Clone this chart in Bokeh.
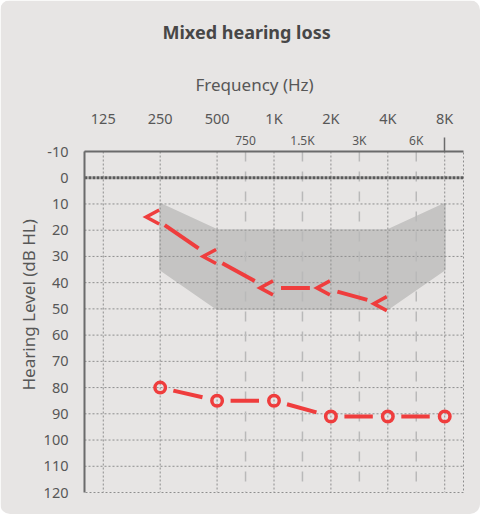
import math
from bokeh.plotting import figure
from bokeh.models import Range1d, LinearAxis, FixedTicker, Title
from bokeh.embed import file_html
from bokeh.resources import INLINE

# ---------------- data ----------------
freq_labels = ["125", "250", "500", "1K", "2K", "4K", "8K"]
half_labels = ["750", "1.5K", "3K", "6K"]
db_ticks = [-10, 0, 10, 20, 30, 40, 50, 60, 70, 80, 90, 100, 110, 120]

# bone conduction ("<") values
bc_freq = ["250", "500", "1K", "2K", "4K"]
bc_db = [15, 30, 42, 42, 48]

# air conduction ("O") values
ac_freq = ["250", "500", "1K", "2K", "4K", "8K"]
ac_db = [80, 85, 85, 91, 91, 91]

# shaded band (outline, clockwise)
band_freq = ["250", "500", "4K", "8K", "8K", "4K", "500", "250"]
band_db = [10, 20, 20, 10, 35, 50, 50, 35]

# ---------------- styling ----------------
PANEL = "#e7e5e4"
BAND = "#c5c4c3"
RED = "#ef3d3d"
GRID = "#8e8e8e"
AXIS = "#6b6b6b"
TEXT = "#575757"
FONT = "Noto Sans"

FW, FH = 379, 341
X0, X1 = -0.33, 6.33
Y_TOP, Y_BOT = -10, 120
PX_X = FW / (X1 - X0)
PX_Y = FH / (Y_BOT - Y_TOP)

idx = {lab: i for i, lab in enumerate(freq_labels)}
oct_pos = list(range(len(freq_labels)))
half_pos = [2.5 + i for i in range(len(half_labels))]

p = figure(frame_width=FW, frame_height=FH,
           x_range=Range1d(X0, X1), y_range=Range1d(Y_BOT, Y_TOP),
           x_axis_location=None, y_axis_location=None,
           toolbar_location=None, output_backend="svg",
           min_border_left=84, min_border_top=144,
           min_border_right=17, min_border_bottom=22)
p.background_fill_color = PANEL
p.border_fill_color = PANEL
p.outline_line_color = GRID
p.outline_line_dash = "2 2"
p.outline_line_width = 1
p.xgrid.visible = False
p.ygrid.visible = False
p.styles = {"border-radius": "10px", "overflow": "hidden"}

# band
p.patch([idx[f] for f in band_freq], band_db, fill_color=BAND,
        line_color=BAND, line_width=2, line_join="round")

# grid lines drawn as glyphs (above band)
p.multi_line([[x, x] for x in oct_pos], [[Y_TOP, Y_BOT]] * len(oct_pos),
             line_color=GRID, line_dash="2 2", line_width=1)
hy = [d for d in db_ticks if d not in (Y_TOP, 0, Y_BOT)]
p.multi_line([[X0, X1]] * len(hy), [[d, d] for d in hy],
             line_color=GRID, line_dash="2 2", line_width=1)
p.multi_line([[x, x] for x in half_pos], [[Y_TOP, Y_BOT]] * len(half_pos),
             line_color="#b9b9b9", line_dash="10 10", line_width=1.5)
p.line([X0, X1], [0, 0], line_color="#5a5a5a", line_dash="3 1", line_width=3)


def shorten(x0, y0, x1, y1, g0, g1):
    dx = (x1 - x0) * PX_X
    dy = (y1 - y0) * PX_Y
    L = math.hypot(dx, dy)
    a, b = g0 / L, 1 - g1 / L
    return ([x0 + (x1 - x0) * a, x0 + (x1 - x0) * b],
            [y0 + (y1 - y0) * a, y0 + (y1 - y0) * b])


# air conduction
ax = [idx[f] for f in ac_freq]
segx, segy = [], []
for i in range(len(ax) - 1):
    sx, sy = shorten(ax[i], ac_db[i], ax[i + 1], ac_db[i + 1], 13.5, 15)
    segx.append(sx)
    segy.append(sy)
p.multi_line(segx, segy, line_color=RED, line_width=4)
p.scatter(ax, ac_db, marker="circle", size=10.5, fill_color=None,
          line_color=RED, line_width=3.5)

# bone conduction
bx = [idx[f] - 7 / PX_X for f in bc_freq]
segx, segy = [], []
for i in range(len(bx) - 1):
    sx, sy = shorten(bx[i], bc_db[i], bx[i + 1], bc_db[i + 1], 14, 14)
    segx.append(sx)
    segy.append(sy)
p.multi_line(segx, segy, line_color=RED, line_width=4)
mx, my = [], []
for f, d in zip(bc_freq, bc_db):
    c = idx[f]
    mx.append([c - 1 / PX_X, c - 14 / PX_X, c - 1 / PX_X])
    my.append([d - 7 / PX_Y, d, d + 7 / PX_Y])
p.multi_line(mx, my, line_color=RED, line_width=3.5, line_join="miter")

# ---------------- axes ----------------
yax = LinearAxis(ticker=FixedTicker(ticks=db_ticks, minor_ticks=[]),
                 major_label_overrides={d: str(d) for d in db_ticks},
                 axis_line_color=AXIS, axis_line_width=2,
                 major_tick_line_color=None, minor_tick_line_color=None,
                 major_label_standoff=10,
                 major_label_text_font=FONT, major_label_text_font_size="14.5px",
                 major_label_text_color=TEXT)
p.add_layout(yax, "left")

axA = LinearAxis(ticker=FixedTicker(ticks=half_pos, minor_ticks=[6]),
                 major_label_overrides={v: l for v, l in zip(half_pos, half_labels)},
                 axis_line_color=AXIS, axis_line_width=2,
                 major_tick_line_color=None,
                 minor_tick_in=0, minor_tick_out=14,
                 minor_tick_line_color=AXIS, minor_tick_line_width=1.5,
                 major_label_standoff=-11,
                 major_label_text_font=FONT, major_label_text_font_size="12px",
                 major_label_text_color=TEXT)
p.add_layout(axA, "above")

axB = LinearAxis(ticker=FixedTicker(ticks=oct_pos, minor_ticks=[]),
                 major_label_overrides={v: l for v, l in zip(oct_pos, freq_labels)},
                 axis_line_color=None, major_tick_line_color=None,
                 minor_tick_line_color=None, major_label_standoff=-5,
                 major_label_text_font=FONT, major_label_text_font_size="14.5px",
                 major_label_text_color=TEXT)
p.add_layout(axB, "above")

t_freq = Title(text="Frequency (Hz)", align="left", offset=111, standoff=18,
               text_font=FONT, text_font_size="17px", text_font_style="normal",
               text_color=TEXT)
p.add_layout(t_freq, "above")
t_main = Title(text="Mixed hearing loss", align="left", offset=78, standoff=35,
               text_font=FONT, text_font_size="18px", text_font_style="bold",
               text_color="#474747")
p.add_layout(t_main, "above")

t_y = Title(text="Hearing Level (dB HL)", align="left", offset=102, standoff=2,
            text_font=FONT, text_font_size="17px", text_font_style="normal",
            text_color=TEXT)
p.add_layout(t_y, "left")

open("out.html", "w").write(file_html(p, INLINE))
